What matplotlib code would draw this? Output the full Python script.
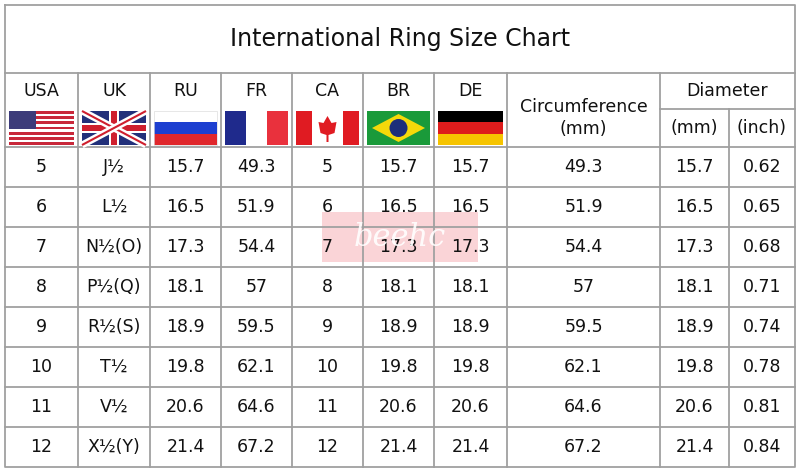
import matplotlib
matplotlib.use("Agg")
import matplotlib.pyplot as plt
from matplotlib.patches import Rectangle, Polygon, Circle

title = "International Ring Size Chart"
countries = ["USA", "UK", "RU", "FR", "CA", "BR", "DE"]
usa = ["5", "6", "7", "8", "9", "10", "11", "12"]
uk = ["J½", "L½", "N½(O)", "P½(Q)", "R½(S)", "T½", "V½", "X½(Y)"]
ru = ["15.7", "16.5", "17.3", "18.1", "18.9", "19.8", "20.6", "21.4"]
fr = ["49.3", "51.9", "54.4", "57", "59.5", "62.1", "64.6", "67.2"]
ca = usa
br = ru
de = ru
circ = fr
dia_mm = ru
dia_inch = ["0.62", "0.65", "0.68", "0.71", "0.74", "0.78", "0.81", "0.84"]

cols = [5, 78, 150, 221, 292, 363, 434, 507, 660, 729, 795]
y_title, y_head, y_sub, y_data, row_h = 5, 73, 109, 147, 40
n = len(usa)
y_bot = y_data + n * row_h

fig = plt.figure(figsize=(8, 4.71), dpi=100)
ax = fig.add_axes([0, 0, 1, 1])
ax.set_xlim(0, 800)
ax.set_ylim(471, 0)
ax.axis("off")
lc = "#a0a0a0"
lw = 1.3
fs = 12.5
txt = "#111111"

# grid lines
ax.plot([cols[0], cols[-1], cols[-1], cols[0], cols[0]], [y_title, y_title, y_bot, y_bot, y_title], color=lc, lw=lw)
ax.plot([cols[0], cols[-1]], [y_head, y_head], color=lc, lw=lw)
for i in range(n):
    y = y_data + i * row_h
    ax.plot([cols[0], cols[-1]], [y, y], color=lc, lw=lw)
ax.plot([cols[8], cols[-1]], [y_sub, y_sub], color=lc, lw=lw)
for i, x in enumerate(cols[1:-1], start=1):
    y0 = y_sub if i == 9 else y_head
    ax.plot([x, x], [y0, y_bot], color=lc, lw=lw)

ax.text(400, 39, title, ha="center", va="center", fontsize=17, color=txt)
for i, c in enumerate(countries):
    ax.text((cols[i] + cols[i + 1]) / 2, 91, c, ha="center", va="center", fontsize=fs, color=txt)
ax.text((cols[7] + cols[8]) / 2, 118, "Circumference\n(mm)", ha="center", va="center",
        fontsize=fs, color=txt, linespacing=1.3)
ax.text((cols[8] + cols[10]) / 2, 91, "Diameter", ha="center", va="center", fontsize=fs, color=txt)
ax.text((cols[8] + cols[9]) / 2, 128, "(mm)", ha="center", va="center", fontsize=fs, color=txt)
ax.text((cols[9] + cols[10]) / 2, 128, "(inch)", ha="center", va="center", fontsize=fs, color=txt)

columns = [usa, uk, ru, fr, ca, br, de, circ, dia_mm, dia_inch]
for j, col in enumerate(columns):
    xc = (cols[j] + cols[j + 1]) / 2
    for i, v in enumerate(col):
        ax.text(xc, y_data + (i + 0.5) * row_h, v, ha="center", va="center", fontsize=fs, color=txt)

# flags
fy0, fy1 = 111, 145
fh = fy1 - fy0


def rect(x, y, w, h, c):
    ax.add_patch(Rectangle((x, y), w, h, facecolor=c, edgecolor="none"))


for i in range(7):
    x0, x1 = cols[i] + 4, cols[i + 1] - 4
    w = x1 - x0
    if i == 0:
        for k in range(13):
            rect(x0, fy0 + k * fh / 13, w, fh / 13, "#c8283a" if k % 2 == 0 else "white")
        rect(x0, fy0, w * 0.42, fh * 7 / 13, "#3c3b7a")
    elif i == 1:
        rect(x0, fy0, w, fh, "#22307a")
        for a, b in [((x0, fy0), (x1, fy1)), ((x0, fy1), (x1, fy0))]:
            ax.plot([a[0], b[0]], [a[1], b[1]], color="white", lw=5, solid_capstyle="butt")
            ax.plot([a[0], b[0]], [a[1], b[1]], color="#cf1f2e", lw=1.5, solid_capstyle="butt")
        rect(x0, fy0 + fh * 0.36, w, fh * 0.28, "white")
        rect(x0 + w * 0.42, fy0, w * 0.16, fh, "white")
        rect(x0, fy0 + fh * 0.42, w, fh * 0.16, "#cf1f2e")
        rect(x0 + w * 0.46, fy0, w * 0.08, fh, "#cf1f2e")
    elif i == 2:
        for k, c in enumerate(["white", "#1d3fd0", "#e0272c"]):
            rect(x0, fy0 + k * fh / 3, w, fh / 3, c)
        ax.add_patch(Rectangle((x0, fy0), w, fh, fill=False, edgecolor="#dddddd", lw=0.5))
    elif i == 3:
        for k, c in enumerate(["#1f2a8c", "white", "#e9313d"]):
            rect(x0 + k * w / 3, fy0, w / 3, fh, c)
    elif i == 4:
        rect(x0, fy0, w, fh, "white")
        rect(x0, fy0, w / 4, fh, "#e01b22")
        rect(x1 - w / 4, fy0, w / 4, fh, "#e01b22")
        cx = (x0 + x1) / 2
        ax.add_patch(Polygon([(cx, fy0 + 5), (cx + 4, fy0 + 12), (cx + 9, fy0 + 11), (cx + 7, fy0 + 22),
                              (cx + 1, fy0 + 24), (cx + 1, fy1 - 3), (cx - 1, fy1 - 3), (cx - 1, fy0 + 24),
                              (cx - 7, fy0 + 22), (cx - 9, fy0 + 11), (cx - 4, fy0 + 12)],
                             facecolor="#e01b22", edgecolor="none"))
    elif i == 5:
        rect(x0, fy0, w, fh, "#1a9a3a")
        cx, cy = (x0 + x1) / 2, (fy0 + fy1) / 2
        ax.add_patch(Polygon([(x0 + 5, cy), (cx, fy0 + 3), (x1 - 5, cy), (cx, fy1 - 3)],
                             facecolor="#f5d90a", edgecolor="none"))
        ax.add_patch(Circle((cx, cy), 9, facecolor="#1c2e7a", edgecolor="none"))
    else:
        for k, c in enumerate(["black", "#dd1c1c", "#f6c400"]):
            rect(x0, fy0 + k * fh / 3, w, fh / 3, c)

# watermark
ax.add_patch(Rectangle((322, 212), 156, 50, facecolor="#f4a0a8", alpha=0.45, edgecolor="none"))
ax.text(400, 237, "beehc", ha="center", va="center", fontsize=22, color="white",
        style="italic", family="DejaVu Serif", alpha=0.9)

fig.savefig("out.png", dpi=100)
